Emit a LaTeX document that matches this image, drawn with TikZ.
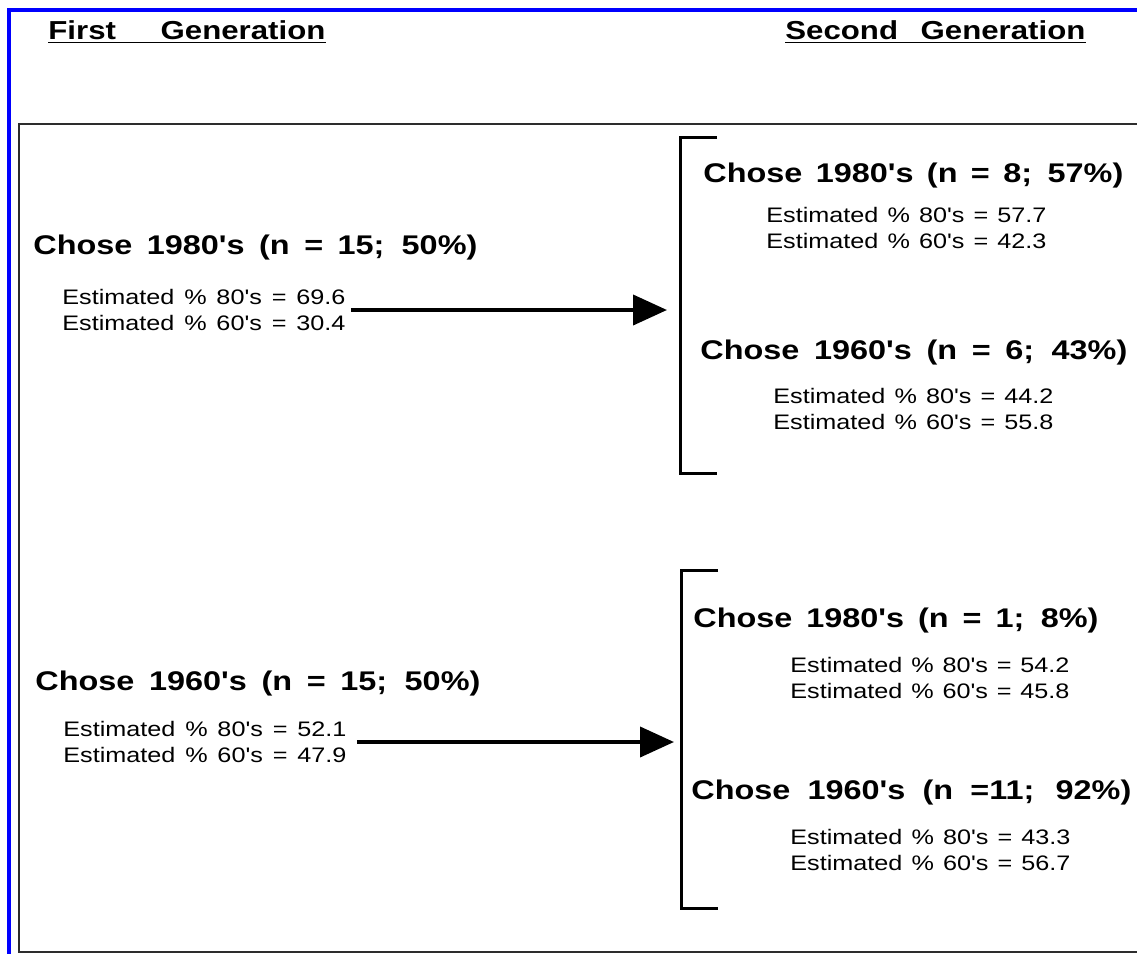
\documentclass[tikz,border=0pt]{standalone}
\usepackage{fontspec}
\setmainfont{Liberation Sans}
\newfontfamily\genfont[FakeStretch=1.2]{Liberation Sans}
\newfontfamily\chosefont[FakeStretch=1.2]{Liberation Sans}
\newfontfamily\estfont[FakeStretch=1.2]{Liberation Sans}
\usepackage{tikz}
\usetikzlibrary{arrows.meta,calc}
\usepackage{xcolor}
\definecolor{frameblue}{RGB}{0,0,255}
\definecolor{framegray}{RGB}{45,45,45}
\newcommand{\spread}[2]{\makebox[#1][s]{#2}}

\begin{document}
\begin{tikzpicture}[x=0.5pt,y=-0.5pt,
  gentitle/.style={anchor=base west,inner sep=0pt,font=\genfont\bfseries\fontsize{13}{15}\selectfont},
  chose/.style={anchor=base west,inner sep=0pt,font=\chosefont\bfseries\fontsize{13.5}{16}\selectfont},
  estim/.style={anchor=west,inner sep=0pt,align=left,font=\estfont\fontsize{10.5}{13}\selectfont},
  bracket/.style={line width=1.5pt},
  choice/.style={line width=2pt,-{Triangle[length=17pt,width=15pt]}}]
\useasboundingbox (0,0) rectangle (1137,954);

% frames
\draw[frameblue,line width=1.7pt] (9,960) -- (9,10) -- (1145,10);
\draw[framegray,line width=1.3pt] (19,124) rectangle (1145,952);

% generation titles
\node[gentitle] (first) at (48,39) {\spread{138.5pt}{First Generation}};
\node[gentitle] (second) at (785,39) {\spread{150pt}{Second Generation}};
\draw[line width=0.8pt] ([yshift=-1.8pt]first.base west) -- ([yshift=-1.8pt]first.base east);
\draw[line width=0.8pt] ([yshift=-1.8pt]second.base west) -- ([yshift=-1.8pt]second.base east);

% first generation
\node[chose] (c80) at (33,254) {\spread{222pt}{Chose 1980's (n = 15; 50\%)}};
\node[estim] (e80) at (62,310) {\spread{141.5pt}{Estimated \% 80's = 69.6}\\
  \spread{141.5pt}{Estimated \% 60's = 30.4}};
\node[chose] (c60) at (35,690) {\spread{222.5pt}{Chose 1960's (n = 15; 50\%)}};
\node[estim] (e60) at (63,742) {\spread{141.5pt}{Estimated \% 80's = 52.1}\\
  \spread{141.5pt}{Estimated \% 60's = 47.9}};

% brackets
\coordinate (top80) at (680,137);
\coordinate (bot80) at (680,473);
\coordinate (top60) at (681,570);
\coordinate (bot60) at (681,908);
\draw[bracket] ([xshift=18.5pt]top80) -- (top80) -- (bot80) -- ([xshift=18.5pt]bot80);
\draw[bracket] ([xshift=18.5pt]top60) -- (top60) -- (bot60) -- ([xshift=18.5pt]bot60);

% second generation
\node[chose] (c80to80) at (703,182) {\spread{210pt}{Chose 1980's (n = 8; 57\%)}};
\node[estim] (e80to80) at (766,228) {\spread{140pt}{Estimated \% 80's = 57.7}\\
  \spread{140pt}{Estimated \% 60's = 42.3}};
\node[chose] (c80to60) at (700,359) {\spread{213.5pt}{Chose 1960's (n = 6; 43\%)}};
\node[estim] (e80to60) at (773,409) {\spread{140pt}{Estimated \% 80's = 44.2}\\
  \spread{140pt}{Estimated \% 60's = 55.8}};
\node[chose] (c60to80) at (693,627) {\spread{202.5pt}{Chose 1980's (n = 1; 8\%)}};
\node[estim] (e60to80) at (790,678) {\spread{139.5pt}{Estimated \% 80's = 54.2}\\
  \spread{139.5pt}{Estimated \% 60's = 45.8}};
\node[chose] (c60to60) at (691,799) {\spread{220pt}{Chose 1960's (n =11; 92\%)}};
\node[estim] (e60to60) at (790,850) {\spread{140pt}{Estimated \% 80's = 43.3}\\
  \spread{140pt}{Estimated \% 60's = 56.7}};

% arrows
\draw[choice] ([xshift=2.5pt]e80.east) -- ([xshift=-6.5pt]e80.east -| top80);
\draw[choice] ([xshift=5pt]e60.east) -- ([xshift=-3.5pt]e60.east -| top60);
\end{tikzpicture}
\end{document}
